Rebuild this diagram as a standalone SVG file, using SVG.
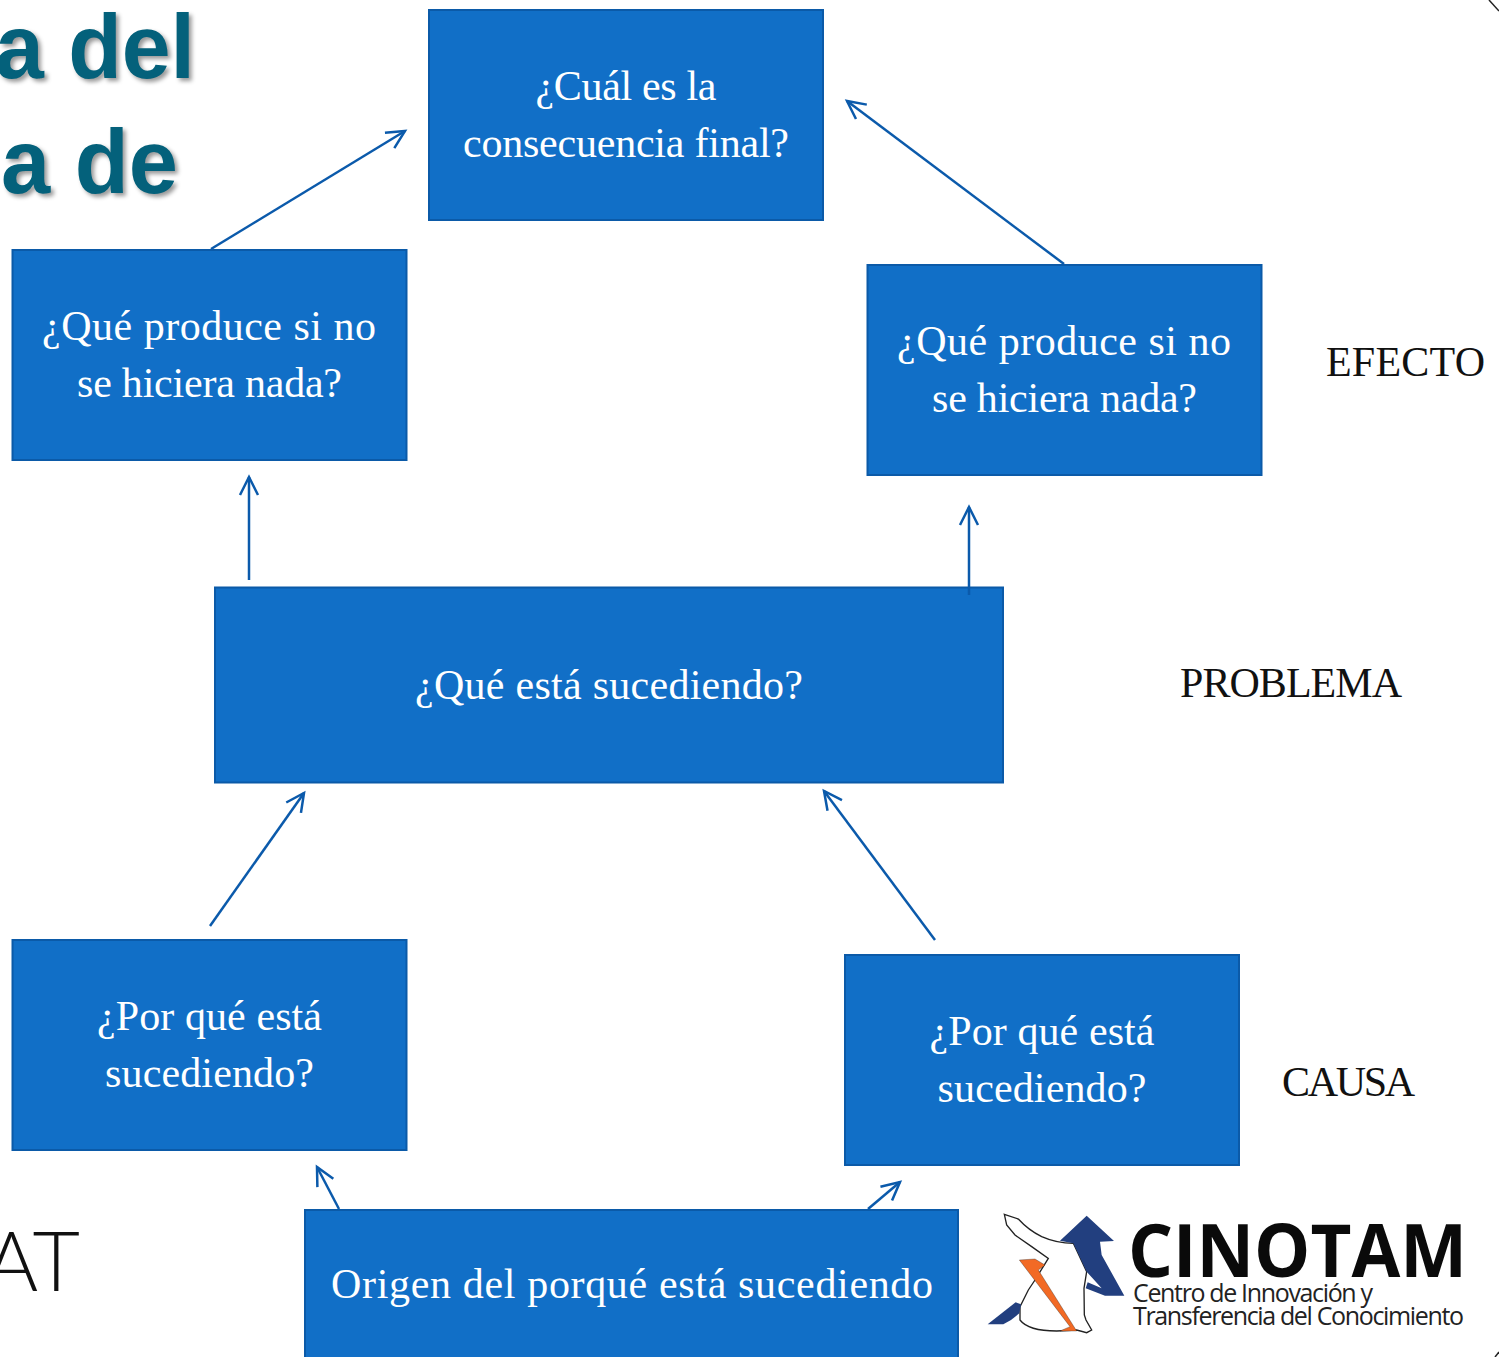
<svg xmlns="http://www.w3.org/2000/svg" width="1499" height="1357" viewBox="0 0 1499 1357">
<style>
.box{fill:#116fc7;stroke:#0b5aa8;stroke-width:2}
.t{font-family:"Liberation Serif",serif;font-size:42px;fill:#fff;text-anchor:middle}
.lab{font-family:"Liberation Serif",serif;font-size:42px;fill:#111;text-anchor:middle}
.title{font-family:"Liberation Sans",sans-serif;font-weight:700;font-size:91px;fill:#04617b;filter:drop-shadow(3px 3px 2px rgba(0,0,0,.4))}
.c{fill:none;stroke:#0b5aab;stroke-width:2.5;marker-end:url(#a)}
</style>
<defs>
<marker id="a" markerUnits="userSpaceOnUse" markerWidth="24" markerHeight="24" refX="20" refY="12" orient="auto" overflow="visible"><path d="M2 3 L20 12 L2 21" fill="none" stroke="#0b5aab" stroke-width="2.5"/></marker>
</defs>
<rect width="1499" height="1357" fill="#fff"/>
<g id="background">
<text class="title" x="-5" y="78" textLength="200" lengthAdjust="spacingAndGlyphs">a del</text>
<text class="title" x="1" y="193" textLength="177" lengthAdjust="spacingAndGlyphs">a de</text>
<text x="80" y="1291" text-anchor="end" font-family="Lato,sans-serif" font-weight="300" font-size="82" fill="#111">AT</text>
<path d="M1489 0 L1499 11" stroke="#222" stroke-width="1.5" fill="none"/>
<path d="M1495 1357 L1499 1352" stroke="#222" stroke-width="1.5" fill="none"/>
</g>
<g id="n-final"><rect class="box" x="429" y="10" width="394" height="210"/>
<text class="t" x="626" y="100" textLength="181">¿Cuál es la</text><text class="t" x="626" y="157" textLength="326">consecuencia final?</text></g>
<g id="n-efecto-izq"><rect class="box" x="12.500" y="250" width="394" height="210"/>
<text class="t" x="209" y="340" textLength="334">¿Qué produce si no</text><text class="t" x="209.500" y="397" textLength="265">se hiciera nada?</text></g>
<g id="n-efecto-der"><rect class="box" x="867.500" y="265" width="394" height="210"/>
<text class="t" x="1064" y="355" textLength="334">¿Qué produce si no</text><text class="t" x="1064.500" y="412" textLength="265">se hiciera nada?</text></g>
<g id="n-problema"><rect class="box" x="215" y="587.500" width="788" height="195"/>
<text class="t" x="609" y="699" textLength="388">¿Qué está sucediendo?</text></g>
<g id="n-causa-izq"><rect class="box" x="12.500" y="940" width="394" height="210"/>
<text class="t" x="209.500" y="1030" textLength="225">¿Por qué está</text><text class="t" x="209.500" y="1087" textLength="209">sucediendo?</text></g>
<g id="n-causa-der"><rect class="box" x="845" y="955" width="394" height="210"/>
<text class="t" x="1042" y="1045" textLength="225">¿Por qué está</text><text class="t" x="1042" y="1102" textLength="209">sucediendo?</text></g>
<g id="n-origen"><rect class="box" x="305" y="1210" width="653" height="150"/>
<text class="t" x="632" y="1298" textLength="602">Origen del porqué está sucediendo</text></g>
<g id="l-efecto"><text class="lab" x="1405.500" y="376" textLength="159">EFECTO</text></g>
<g id="l-problema"><text class="lab" x="1291" y="697" textLength="222">PROBLEMA</text></g>
<g id="l-causa"><text class="lab" x="1348.500" y="1096" textLength="133">CAUSA</text></g>
<g id="connectors">
<path class="c" d="M211 249 L405 131"/>
<path class="c" d="M1064 264 L847 101"/>
<path class="c" d="M249 580 L249 477"/>
<path class="c" d="M969 595 L969 507"/>
<path class="c" d="M210 926 L304 793"/>
<path class="c" d="M935 940 L824 791"/>
<path class="c" d="M339 1209 L317 1167"/>
<path class="c" d="M868 1209 L900 1182"/>
</g>
<g id="logo">
<g transform="translate(985 1205) scale(.33333)">
<path d="M58 28 L100 42 Q130 75 170 95 Q215 115 265 115 L305 200 L297 250 L298 330 L303 345 L320 375 L305 383 L275 375 L215 378 Q130 378 105 345 L105 305 L130 255 L150 225 L190 160 L140 125 L90 90 L65 60 Z" fill="#fff" stroke="#222" stroke-width="4"/>
<path d="M305 32 L387 108 L345 110 L350 150 L418 272 L360 272 L302 250 L308 232 L350 250 L305 200 L265 115 L225 107 Z" fill="#223f7f"/>
<path d="M103 165 L150 162 L180 180 L160 195 L275 378 L225 378 L255 365 Z" fill="#f26a25" stroke="#222" stroke-width="1"/>
<path d="M8 358 L92 292 L108 298 L103 325 L78 345 L55 358 Z" fill="#223f7f"/>
</g>
<text x="1128" y="1277" font-family="'Open Sans',sans-serif" font-weight="700" font-size="73" fill="#0a0a0a" textLength="339" lengthAdjust="spacingAndGlyphs">CINOTAM</text>
<text x="1133" y="1302" font-family="'Open Sans',sans-serif" font-size="25" fill="#222" textLength="240">Centro de Innovación y</text>
<text x="1133" y="1325" font-family="'Open Sans',sans-serif" font-size="25" fill="#222" textLength="331">Transferencia del Conocimiento</text>
</g>
</svg>
